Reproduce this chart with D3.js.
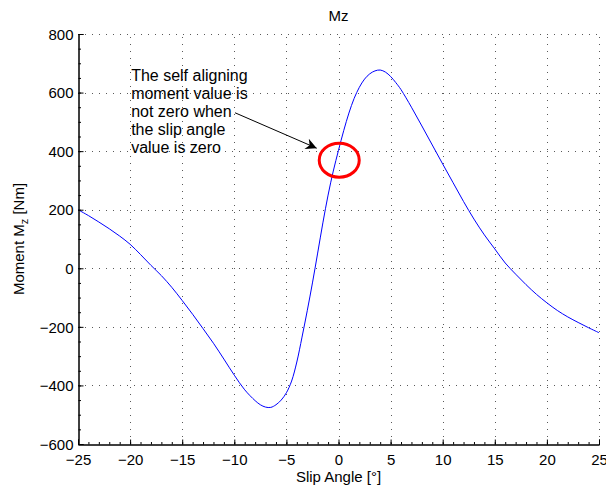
<!DOCTYPE html>
<html>
<head>
<meta charset="utf-8">
<script src="https://cdn.jsdelivr.net/npm/d3@7"></script>
<style>
  body { margin: 0; background: #fff; }
  svg { display: block; font-family: "Liberation Sans", Arial, sans-serif; }
</style>
</head>
<body>
<div id="chart"></div>
<script>
// values
const slipAngle = [-25, -24, -23, -22, -21, -20, -19, -18, -17, -16, -15, -14, -13, -12, -11, -10, -9, -8, -7.5, -7, -6.5, -6, -5.5, -5, -4.5, -4, -3.5, -3, -2.5, -2, -1.5, -1, -0.5, 0, 0.5, 1, 1.5, 2, 2.5, 3, 3.5, 4, 4.5, 5, 5.5, 6, 7, 8, 9, 10, 11, 12, 13, 14, 15, 16, 17, 18, 19, 20, 21, 22, 23, 24, 25];
const moment = [200, 180, 158, 135, 110, 82, 47, 10, -25, -65, -110, -157, -206, -256, -310, -365, -415, -452, -466, -474, -475, -466, -450, -425, -385, -320, -235, -145, -50, 52, 155, 250, 332, 403, 470, 530, 580, 618, 646, 664, 674, 677, 670, 655, 634, 610, 550, 486, 421, 356, 292, 228, 168, 114, 66, 18, -20, -56, -89, -118, -144, -166, -185, -203, -220];

const xTicks = [-25, -20, -15, -10, -5, 0, 5, 10, 15, 20, 25];
const yTicks = [-600, -400, -200, 0, 200, 400, 600, 800];
const noteLines = ["The self aligning", "moment value is", "not zero when", "the slip angle", "value is zero"];

const title = "Mz";
const xLabel = "Slip Angle [\u00b0]";

const width = 606, height = 490;
const margin = { top: 34, right: 7, bottom: 46, left: 78 };

const x = d3.scaleLinear().domain([-25, 25]).range([margin.left, width - margin.right]);
const y = d3.scaleLinear().domain([-600, 800]).range([height - margin.bottom, margin.top]);

const svg = d3.select("#chart").append("svg")
  .attr("width", width).attr("height", height);

svg.append("rect").attr("width", width).attr("height", height).attr("fill", "#fff");

// dotted grid
const grid = svg.append("g").attr("stroke", "#222").attr("stroke-width", 1)
  .attr("stroke-dasharray", "1,6").attr("opacity", 0.75);
grid.selectAll(".gx").data(xTicks.slice(1)).enter().append("line")
  .attr("x1", d => Math.round(x(d)) + 0.5).attr("x2", d => Math.round(x(d)) + 0.5)
  .attr("y1", y(-600)).attr("y2", y(800));
grid.selectAll(".gy").data(yTicks.slice(1)).enter().append("line")
  .attr("y1", d => Math.round(y(d)) + 0.5).attr("y2", d => Math.round(y(d)) + 0.5)
  .attr("x1", x(-25)).attr("x2", x(25));

// curve
const line = d3.line().x((d, i) => x(slipAngle[i])).y(d => y(d)).curve(d3.curveCatmullRom.alpha(0.5));
svg.append("path").datum(moment)
  .attr("d", line)
  .attr("fill", "none").attr("stroke", "#0000ff").attr("stroke-width", 1);

// axes: major ticks point inward, minor ticks small
const xAxis = svg.append("g").attr("transform", `translate(0,${Math.round(y(-600)) + 0.5})`)
  .call(d3.axisBottom(x).tickValues(xTicks).tickSize(-5).tickPadding(10));
const xMinor = svg.append("g").attr("transform", `translate(0,${Math.round(y(-600)) + 0.5})`)
  .call(d3.axisBottom(x).tickValues(d3.range(-25, 26, 1)).tickSize(-2.5).tickFormat(""));
const yAxis = svg.append("g").attr("transform", `translate(${Math.round(x(-25)) + 0.5},0)`)
  .call(d3.axisLeft(y).tickValues(yTicks).tickSize(-5).tickPadding(5));
const yMinor = svg.append("g").attr("transform", `translate(${Math.round(x(-25)) + 0.5},0)`)
  .call(d3.axisLeft(y).tickValues(d3.range(-600, 801, 50)).tickSize(-2.5).tickFormat(""));

[xAxis, xMinor, yAxis, yMinor].forEach(g => {
  g.select(".domain").attr("stroke", "#000").attr("stroke-width", 1);
  g.selectAll("line").attr("stroke", "#000");
  g.selectAll("text").attr("font-size", 15).attr("fill", "#000")
    .attr("font-family", "'Liberation Sans', Arial, sans-serif");
});
xAxis.selectAll("text").attr("dy", "0.71em");
yAxis.selectAll("text").attr("dy", "0.35em");

// title and labels
svg.append("text").attr("x", (x(-25) + x(25)) / 2).attr("y", 21)
  .attr("text-anchor", "middle").attr("font-size", 15).text(title);
svg.append("text").attr("x", (x(-25) + x(25)) / 2).attr("y", 482)
  .attr("text-anchor", "middle").attr("font-size", 15).text(xLabel);

const yl = svg.append("text")
  .attr("transform", `translate(24,${(y(-600) + y(800)) / 2}) rotate(-90)`)
  .attr("text-anchor", "middle").attr("font-size", 15);
yl.append("tspan").text("Moment M");
yl.append("tspan").attr("font-size", 11).attr("dy", 4).text("z");
yl.append("tspan").attr("dy", -4).text(" [Nm]");

// annotation
const note = svg.append("text").attr("font-size", 16).attr("fill", "#000");
note.selectAll("tspan").data(noteLines).enter().append("tspan")
  .attr("x", x(-19.9)).attr("y", (d, i) => y(638) + i * 17.8).text(d => d);

svg.append("defs").append("marker")
  .attr("id", "head").attr("viewBox", "0 0 10 10").attr("refX", 10).attr("refY", 5)
  .attr("markerWidth", 16).attr("markerHeight", 11).attr("markerUnits", "userSpaceOnUse")
  .attr("orient", "auto")
  .append("path").attr("d", "M0,0 L10,5 L0,10 L3,5 Z").attr("fill", "#000");

svg.append("line")
  .attr("x1", x(-9.93)).attr("y1", y(531))
  .attr("x2", x(-2.09)).attr("y2", y(410))
  .attr("stroke", "#000").attr("stroke-width", 1).attr("marker-end", "url(#head)");

svg.append("ellipse")
  .attr("cx", x(0.07)).attr("cy", y(369))
  .attr("rx", x(1.92) - x(0)).attr("ry", y(0) - y(58))
  .attr("fill", "none").attr("stroke", "#ff0000").attr("stroke-width", 3);
</script>
</body>
</html>
